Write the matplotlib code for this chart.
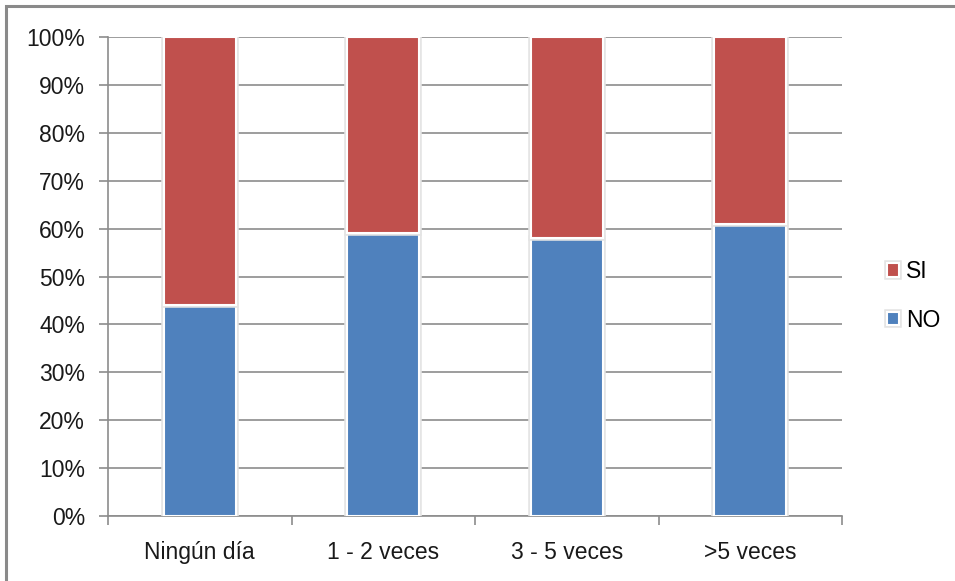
import matplotlib
matplotlib.use("Agg")
import matplotlib.pyplot as plt
import matplotlib.patheffects as pe
from matplotlib.patches import Rectangle
from matplotlib.ticker import PercentFormatter, FixedLocator
import numpy as np

categories = ["Ningún día", "1 - 2 veces", "3 - 5 veces", ">5 veces"]
no_values = [44, 59, 58, 61]
si_values = [100 - v for v in no_values]
y_ticks = list(range(0, 101, 10))

BLUE = "#4F81BD"
RED = "#C0504D"
GRID = "#8C8C8C"
FS = 16.5

plt.rcParams["font.family"] = ["Liberation Sans", "DejaVu Sans"]

W, H = 955, 581
fig = plt.figure(figsize=(W / 100, H / 100), dpi=100)
fig.patch.set_facecolor("white")

# outer frame of the chart area
fig.add_artist(Rectangle((6 / W, -0.2), 1.2, 1.2 - 5.5 / H,
                         transform=fig.transFigure, fill=False,
                         edgecolor="#8a8a8a", linewidth=2.2))

ax = fig.add_axes([108 / W, 1 - 516 / H, (842 - 108) / W, (516 - 37) / H])

x = np.arange(len(categories))
halo = [pe.Stroke(linewidth=4, foreground="#e4e4e4"), pe.Normal()]
bars_no = ax.bar(x, no_values, width=0.39, color=BLUE, edgecolor="white",
                 linewidth=1.5, label="NO", zorder=3)
bars_si = ax.bar(x, si_values, width=0.39, bottom=no_values, color=RED,
                 edgecolor="white", linewidth=1.5, label="SI", zorder=3)
for b in list(bars_no) + list(bars_si):
    b.set_path_effects(halo)

ax.set_xlim(-0.5, len(categories) - 0.5)
ax.set_ylim(0, 100)
ax.set_yticks(y_ticks)
ax.yaxis.set_major_formatter(PercentFormatter(decimals=0))
ax.grid(axis="y", color=GRID, linewidth=1.2, zorder=0)
ax.set_axisbelow(True)

ax.set_xticks(x)
ax.set_xticklabels(categories)
ax.xaxis.set_minor_locator(FixedLocator(np.arange(len(categories) + 1) - 0.5))
ax.tick_params(axis="x", which="major", length=0, pad=18, labelsize=FS,
               labelcolor="#1a1a1a")
ax.tick_params(axis="x", which="minor", length=6.5, width=1.2, color=GRID,
               direction="out")
ax.tick_params(axis="y", length=6.5, width=1.2, color=GRID, pad=10,
               labelsize=FS, labelcolor="#1a1a1a")

for side in ("top", "right"):
    ax.spines[side].set_visible(False)
for side in ("left", "bottom"):
    ax.spines[side].set_color(GRID)
    ax.spines[side].set_linewidth(1.2)

handles = [bars_si, bars_no]
fig.legend(handles, ["SI", "NO"], loc="center left",
           bbox_to_anchor=(866 / W, 1 - 296 / H), frameon=False,
           fontsize=FS, handlelength=0.55, handleheight=0.55,
           handletextpad=0.3, labelspacing=1.1)

fig.savefig("out.png", dpi=100, facecolor="white")
